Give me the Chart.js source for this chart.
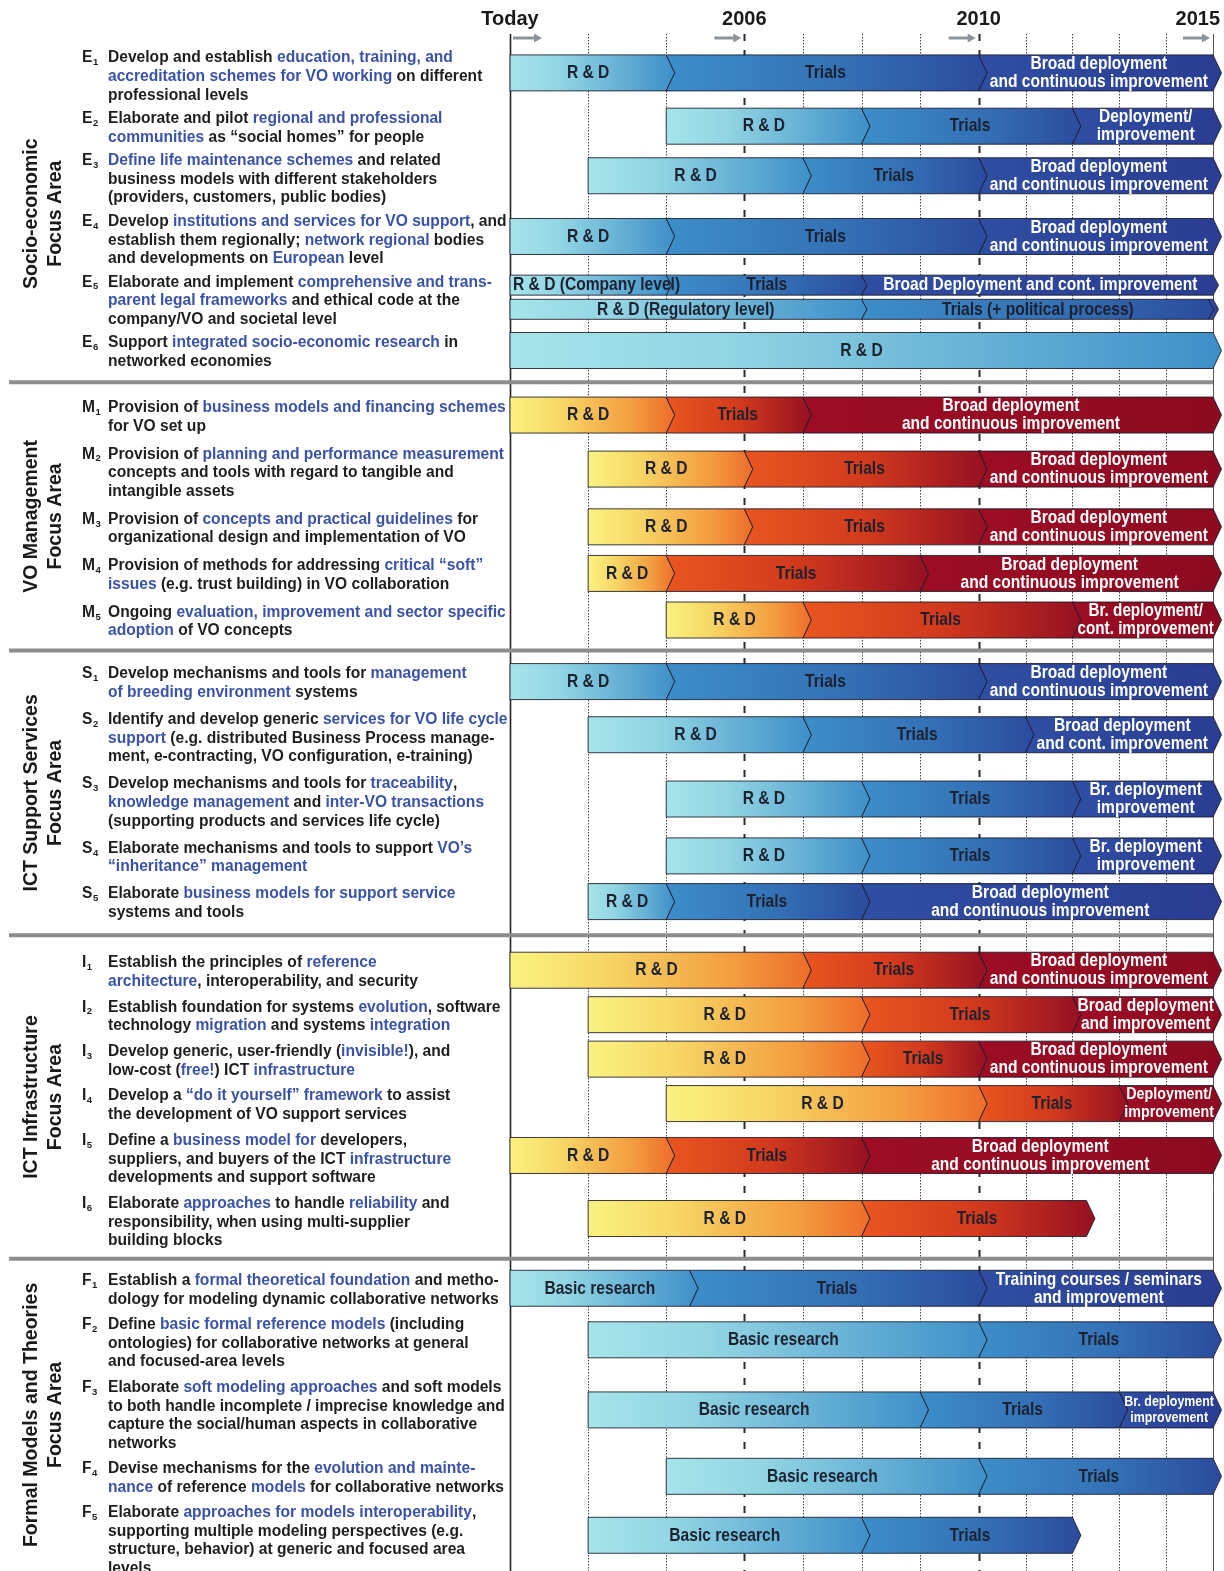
<!DOCTYPE html>
<html>
<head>
<meta charset="utf-8">
<script src="https://cdn.jsdelivr.net/npm/chart.js@4.4.1/dist/chart.umd.min.js"></script>
<style>
  html, body { margin: 0; padding: 0; background: #fff; }
  canvas { display: block; }
</style>
</head>
<body>
<canvas id="roadmap" width="1224" height="1571"></canvas>
<script>
/* ------------------------------
   DATA
------------------------------ */
const tickYears = [2003, 2006, 2010, 2015];
const tickLabels = ['Today', '2006', '2010', '2015'];
const gridYears = [2003, 2004, 2005, 2006, 2007, 2008, 2009, 2010, 2011, 2012, 2013, 2014, 2015];

const groupLetters = ['E', 'M', 'S', 'I', 'F'];
const groupTitles = [
  ['Socio-economic', 'Focus Area'],
  ['VO Management', 'Focus Area'],
  ['ICT Support Services', 'Focus Area'],
  ['ICT Infrastructure', 'Focus Area'],
  ['Formal Models and Theories', 'Focus Area']
];
const groupScheme = ['blue', 'red', 'blue', 'red', 'blue'];

// {...} marks the blue highlighted words
const itemCodes = ['E1','E2','E3','E4','E5','E6','M1','M2','M3','M4','M5','S1','S2','S3','S4','S5','I1','I2','I3','I4','I5','I6','F1','F2','F3','F4','F5'];
const itemText = [
  ['Develop and establish {education, training, and}', '{accreditation schemes for VO working} on different', 'professional levels'],
  ['Elaborate and pilot {regional and professional}', '{communities} as \u201csocial homes\u201d for people'],
  ['{Define life maintenance schemes} and related', 'business models with different stakeholders', '(providers, customers, public bodies)'],
  ['Develop {institutions and services for VO support}, and', 'establish them regionally; {network regional} bodies', 'and developments on {European} level'],
  ['Elaborate and implement {comprehensive and trans-}', '{parent legal frameworks} and ethical code at the', 'company/VO and societal level'],
  ['Support {integrated socio-economic research} in', 'networked economies'],
  ['Provision of {business models and financing schemes}', 'for VO set up'],
  ['Provision of {planning and performance measurement}', 'concepts and tools with regard to tangible and', 'intangible assets'],
  ['Provision of {concepts and practical guidelines} for', 'organizational design and implementation of VO'],
  ['Provision of methods for addressing {critical \u201csoft\u201d}', '{issues} (e.g. trust building) in VO collaboration'],
  ['Ongoing {evaluation, improvement and sector specific}', '{adoption} of VO concepts'],
  ['Develop mechanisms and tools for {management}', '{of breeding environment} systems'],
  ['Identify and develop generic {services for VO life cycle}', '{support} (e.g. distributed Business Process manage-', 'ment, e-contracting, VO configuration, e-training)'],
  ['Develop mechanisms and tools for {traceability},', '{knowledge management} and {inter-VO transactions}', '(supporting products and services life cycle)'],
  ['Elaborate mechanisms and tools to support {VO\u2019s}', '{\u201cinheritance\u201d management}'],
  ['Elaborate {business models for support service}', 'systems and tools'],
  ['Establish the principles of {reference}', '{architecture}, interoperability, and security'],
  ['Establish foundation for systems {evolution}, software', 'technology {migration} and systems {integration}'],
  ['Develop generic, user-friendly ({invisible!}), and', 'low-cost ({free!}) ICT {infrastructure}'],
  ['Develop a {\u201cdo it yourself\u201d framework} to assist', 'the development of VO support services'],
  ['Define a {business model for} developers,', 'suppliers, and buyers of the ICT {infrastructure}', 'developments and support software'],
  ['Elaborate {approaches} to handle {reliability} and', 'responsibility, when using multi-supplier', 'building blocks'],
  ['Establish a {formal theoretical foundation} and metho-', 'dology for modeling dynamic collaborative networks'],
  ['Define {basic formal reference models} (including', 'ontologies) for collaborative networks at general', 'and focused-area levels'],
  ['Elaborate {soft modeling approaches} and soft models', 'to both handle incomplete / imprecise knowledge and', 'capture the social/human aspects in collaborative', 'networks'],
  ['Devise mechanisms for the {evolution and mainte-}', '{nance} of reference {models} for collaborative networks'],
  ['Elaborate {approaches for models interoperability},', 'supporting multiple modeling perspectives (e.g.', 'structure, behavior) at generic and focused area', 'levels']
];

// one entry per bar (E5 has two bars)
const barItem   = ['E1','E2','E3','E4','E5','E5','E6','M1','M2','M3','M4','M5','S1','S2','S3','S4','S5','I1','I2','I3','I4','I5','I6','F1','F2','F3','F4','F5'];
const barStart  = [2003,2005,2004,2003,2003,2003,2003, 2003,2004,2004,2004,2005, 2003,2004,2005,2005,2004, 2003,2004,2004,2005,2003,2004, 2003,2004,2004,2005,2004];
const rdEnd     = [2005,2008,2007,2005,2005,2008,2015, 2005,2006,2006,2005,2007, 2005,2007,2008,2008,2005, 2007,2008,2008,2010,2005,2008, 2005.3,2010,2009,2010,2008];
const trialsEnd = [2010,2012,2010,2010,2008,2014.9,null, 2007,2010,2010,2009,2012, 2010,2011,2012,2012,2008, 2010,2012,2010,2013,2008,2012.3, 2010,2015,2013,2015,2012];
const finalEnd  = [2015,2015,2015,2015,2015,2015,null, 2015,2015,2015,2015,2015, 2015,2015,2015,2015,2015, 2015,2015,2015,2015,2015,null, 2015,null,2015,null,null];

const BD = 'Broad deployment\nand continuous improvement';
const rdLabel = ['R & D','R & D','R & D','R & D','R & D (Company level)','R & D (Regulatory level)','R & D',
  'R & D','R & D','R & D','R & D','R & D',
  'R & D','R & D','R & D','R & D','R & D',
  'R & D','R & D','R & D','R & D','R & D','R & D',
  'Basic research','Basic research','Basic research','Basic research','Basic research'];
const trialsLabel = ['Trials','Trials','Trials','Trials','Trials','Trials (+ political process)',null,
  'Trials','Trials','Trials','Trials','Trials',
  'Trials','Trials','Trials','Trials','Trials',
  'Trials','Trials','Trials','Trials','Trials','Trials',
  'Trials','Trials','Trials','Trials','Trials'];
const finalLabel = [BD,'Deployment/\nimprovement',BD,BD,'Broad Deployment and cont. improvement','',null,
  BD,BD,BD,BD,'Br. deployment/\ncont. improvement',
  BD,'Broad deployment\nand cont. improvement','Br. deployment\nimprovement','Br. deployment\nimprovement',BD,
  BD,'Broad deployment\nand improvement',BD,'Deployment/\nimprovement',BD,null,
  'Training courses / seminars\nand improvement',null,'Br. deployment\nimprovement',null,null];

/* ------------------------------
   LAYOUT HELPERS
------------------------------ */
const W = 1224, H = 1571;
const TOP = 45, LINE = 18.6;
const Y_MAX = (H - TOP) / LINE;
const FONT = '"Liberation Sans", Arial, sans-serif';
const NARROW_X = 0.82;   // squeeze for an Arial-Narrow look
const BLUE_TXT = '#3a52a8';

// year -> axis position (each era between labelled ticks gets equal width)
function toPos(yr) {
  for (let i = 0; i < tickYears.length - 1; i++) {
    if (yr <= tickYears[i + 1]) return i + (yr - tickYears[i]) / (tickYears[i + 1] - tickYears[i]);
  }
  return tickYears.length - 1;
}

// vertical layout in "text line" units, driven by the number of text lines
const groupGap = [0.265, 0.505, 0.457, 0.39, 0.37];
const groupBreak = [2.47, 2.31, 2.69, 2.15];
const itemPos = {};
const seps = [];
let u = 0.70;
groupLetters.forEach((g, gi) => {
  const codes = itemCodes.filter(c => c[0] === g);
  codes.forEach((c, k) => {
    const n = itemText[itemCodes.indexOf(c)].length;
    itemPos[c] = { first: u, lines: n, center: u + 0.4 * (n - 1) };
    u += n + (k < codes.length - 1 ? groupGap[gi] : 0);
  });
  if (gi < groupLetters.length - 1) {
    const lastLine = u - 1;
    seps.push(lastLine + 0.45 * groupBreak[gi]);
    u = lastLine + groupBreak[gi];
  }
});

const barY = barItem.map((c, i) => {
  const same = barItem.filter(x => x === c).length;
  if (same === 1) return itemPos[c].center;
  const k = barItem.slice(0, i).filter(x => x === c).length;
  return itemPos[c].center + (k === 0 ? -0.65 : 0.65);
});

const phaseEnds = [rdEnd, trialsEnd, finalEnd];
const phaseLabels = [rdLabel, trialsLabel, finalLabel];

const datasets = [0, 1, 2].map(k => ({
  label: ['R & D', 'Trials', 'Deployment'][k],
  data: barItem.map((c, i) => {
    const end = phaseEnds[k][i];
    if (end == null) return null;
    const start = k === 0 ? barStart[i] : phaseEnds[k - 1][i];
    return { x: [toPos(start), toPos(end)], y: barY[i], bar: i };
  }).filter(Boolean),
  grouped: false,
  backgroundColor: 'rgba(0,0,0,0)',
  borderWidth: 0
}));

/* ------------------------------
   COLOURS
------------------------------ */
const schemes = {
  blue: [
    [[0, '#a6e4ea'], [0.3, '#92d5e3'], [1, '#3e8fc9']],
    [[0, '#3c8ec8'], [0.55, '#3470b5'], [1, '#2b4b9e']],
    [[0, '#2f4ea2'], [1, '#2a3d92']]
  ],
  red: [
    [[0, '#fbf281'], [0.3, '#f7d866'], [0.75, '#f39b3f'], [1, '#ee6c2a']],
    [[0, '#e9561f'], [0.5, '#d23a1d'], [1, '#961022']],
    [[0, '#9c0d24'], [1, '#8c0a20']]
  ]
};
const textColors = ['#1c2130', '#1c2130', '#ffffff'];

/* ------------------------------
   DRAW HELPERS
------------------------------ */
function richLine(ctx, text, x, y) {
  const parts = text.split(/([{}])/);
  let blue = false;
  parts.forEach(p => {
    if (p === '{') { blue = true; return; }
    if (p === '}') { blue = false; return; }
    if (!p) return;
    ctx.fillStyle = blue ? BLUE_TXT : '#1e1e1e';
    ctx.fillText(p, x, y);
    x += ctx.measureText(p).width;
  });
}

function arrow(ctx, x0, x1, y) {
  ctx.strokeStyle = '#8d949c';
  ctx.fillStyle = '#8d949c';
  ctx.lineWidth = 3;
  ctx.beginPath(); ctx.moveTo(x0, y); ctx.lineTo(x1 - 6, y); ctx.stroke();
  ctx.beginPath(); ctx.moveTo(x1, y); ctx.lineTo(x1 - 8, y - 4.5); ctx.lineTo(x1 - 8, y + 4.5); ctx.closePath(); ctx.fill();
}

function narrowText(ctx, text, cx, cy) {
  ctx.save();
  ctx.translate(cx, cy);
  ctx.scale(NARROW_X, 1);
  ctx.fillText(text, 0, 0);
  ctx.restore();
}

/* ------------------------------
   ROADMAP PLUGIN
------------------------------ */
const roadmapPlugin = {
  id: 'roadmap',
  beforeDraw(chart) {
    const ctx = chart.ctx;
    ctx.save();
    ctx.fillStyle = '#fff';
    ctx.fillRect(0, 0, W, H);
    ctx.restore();
  },
  beforeDatasetsDraw(chart) {
    const ctx = chart.ctx;
    const xs = chart.scales.x, ys = chart.scales.y;
    ctx.save();

    // vertical grid
    gridYears.forEach(yr => {
      const x = Math.round(xs.getPixelForValue(toPos(yr))) + 0.5;
      ctx.beginPath();
      if (yr === tickYears[0] || yr === tickYears[tickYears.length - 1]) {
        ctx.setLineDash([]); ctx.strokeStyle = yr === tickYears[0] ? '#222' : '#555'; ctx.lineWidth = yr === tickYears[0] ? 1.6 : 1;
      } else if (tickYears.includes(yr)) {
        ctx.setLineDash([7, 9]); ctx.strokeStyle = '#2a2a2a'; ctx.lineWidth = 2;
      } else {
        ctx.setLineDash([1.5, 1.5]); ctx.strokeStyle = '#444'; ctx.lineWidth = 1;
      }
      ctx.moveTo(x, 34); ctx.lineTo(x, H);
      ctx.stroke();
    });
    ctx.setLineDash([]);

    // top labels and arrows
    ctx.font = 'bold 20px ' + FONT;
    ctx.textBaseline = 'middle';
    tickYears.forEach((yr, i) => {
      const x = xs.getPixelForValue(toPos(yr));
      const w = ctx.measureText(tickLabels[i]).width;
      let left = x - w / 2;
      if (left + w > W - 4) left = W - 4 - w;
      ctx.fillStyle = '#1a1a1a';
      ctx.textAlign = 'left';
      ctx.fillText(tickLabels[i], left, 19);
      if (i === 0) arrow(ctx, x + 3, x + 32, 38);
      else arrow(ctx, x - 30, x - 3, 38);
    });

    // separators between focus areas
    ctx.strokeStyle = '#8d8d8d';
    ctx.lineWidth = 4;
    seps.forEach(s => {
      const y = ys.getPixelForValue(s);
      ctx.beginPath(); ctx.moveTo(9, y); ctx.lineTo(chart.chartArea.right, y); ctx.stroke();
    });

    // group titles
    const bounds = [0, ...seps, Y_MAX];
    ctx.font = 'bold 19.5px ' + FONT;
    ctx.fillStyle = '#1a1a1a';
    ctx.textAlign = 'center';
    groupTitles.forEach((t, gi) => {
      const yc = (ys.getPixelForValue(bounds[gi]) + ys.getPixelForValue(bounds[gi + 1])) / 2;
      t.forEach((line, li) => {
        ctx.save();
        ctx.translate(32 + li * 24, yc);
        ctx.rotate(-Math.PI / 2);
        ctx.fillText(line, 0, 0);
        ctx.restore();
      });
    });

    // item descriptions
    itemCodes.forEach((c, i) => {
      const p = itemPos[c];
      const y0 = ys.getPixelForValue(p.first);
      ctx.textAlign = 'left';
      ctx.font = 'bold 15.6px ' + FONT;
      ctx.fillStyle = '#1e1e1e';
      ctx.fillText(c[0], 82, y0);
      const lw = ctx.measureText(c[0]).width;
      ctx.font = 'bold 9.5px ' + FONT;
      ctx.fillText(c.slice(1), 82 + lw + 0.5, y0 + 4.5);
      ctx.font = 'bold 15.6px ' + FONT;
      itemText[i].forEach((line, li) => {
        richLine(ctx, line, 108, ys.getPixelForValue(p.first + li));
      });
    });
    ctx.restore();
  },
  afterDatasetsDraw(chart) {
    const ctx = chart.ctx;
    const segs = [];
    chart.data.datasets.forEach((ds, k) => {
      chart.getDatasetMeta(k).data.forEach((el, j) => {
        const raw = ds.data[j];
        segs.push({
          bar: raw.bar, phase: k,
          xL: Math.min(el.base, el.x), xR: Math.max(el.base, el.x), yM: el.y
        });
      });
    });

    ctx.save();
    // chevron shapes
    segs.forEach(s => {
      const pair = barItem.filter(x => x === barItem[s.bar]).length > 1;
      const h = pair ? 20 : 36;
      const d = pair ? 5.5 : 8.5;
      const yT = s.yM - h / 2, yB = s.yM + h / 2;
      const g = groupLetters.indexOf(barItem[s.bar][0]);
      const stops = schemes[groupScheme[g]][s.phase];
      const grad = ctx.createLinearGradient(s.xL, 0, s.xR + d, 0);
      stops.forEach(st => grad.addColorStop(st[0], st[1]));
      ctx.beginPath();
      ctx.moveTo(s.xL, yT);
      ctx.lineTo(s.xR, yT);
      ctx.lineTo(s.xR + d, s.yM);
      ctx.lineTo(s.xR, yB);
      ctx.lineTo(s.xL, yB);
      if (s.phase > 0) ctx.lineTo(s.xL + d, s.yM);
      ctx.closePath();
      ctx.fillStyle = grad;
      ctx.fill();
      ctx.strokeStyle = 'rgba(25,25,40,0.85)';
      ctx.lineWidth = 1;
      ctx.stroke();
    });

    // labels
    ctx.textAlign = 'center';
    ctx.textBaseline = 'middle';
    segs.forEach(s => {
      const text = phaseLabels[s.phase][s.bar];
      if (!text) return;
      const lines = text.split('\n');
      let size = 19;
      ctx.font = 'bold ' + size + 'px ' + FONT;
      let maxW = Math.max(...lines.map(l => ctx.measureText(l).width)) * NARROW_X;
      const avail = lines.length === 1 ? (s.xR - s.xL + 30) : (s.xR - s.xL - 4);
      if (maxW > avail) { size = Math.max(10, size * avail / maxW); maxW = avail; }
      ctx.font = 'bold ' + size + 'px ' + FONT;
      ctx.fillStyle = textColors[s.phase];
      let cx = (s.xL + s.xR) / 2 + (s.phase > 0 ? 3 : 0);
      if (cx - maxW / 2 < s.xL + 3) cx = s.xL + 3 + maxW / 2;
      const lh = Math.min(18, size * 1.05);
      lines.forEach((l, li) => {
        narrowText(ctx, l, cx, s.yM + (li - (lines.length - 1) / 2) * lh);
      });
    });
    ctx.restore();
  }
};

/* ------------------------------
   CHART
------------------------------ */
const ctx = document.getElementById('roadmap');
new Chart(ctx, {
  type: 'bar',
  data: { datasets },
  options: {
    indexAxis: 'y',
    responsive: false,
    animation: false,
    layout: { padding: { left: 510, right: 11, top: TOP, bottom: 0 } },
    scales: {
      x: { type: 'linear', min: 0, max: tickYears.length - 1, offset: false, display: false },
      y: { type: 'linear', min: 0, max: Y_MAX, reverse: true, offset: false, display: false }
    },
    plugins: {
      legend: { display: false },
      tooltip: { enabled: false }
    }
  },
  plugins: [roadmapPlugin]
});
</script>
</body>
</html>
